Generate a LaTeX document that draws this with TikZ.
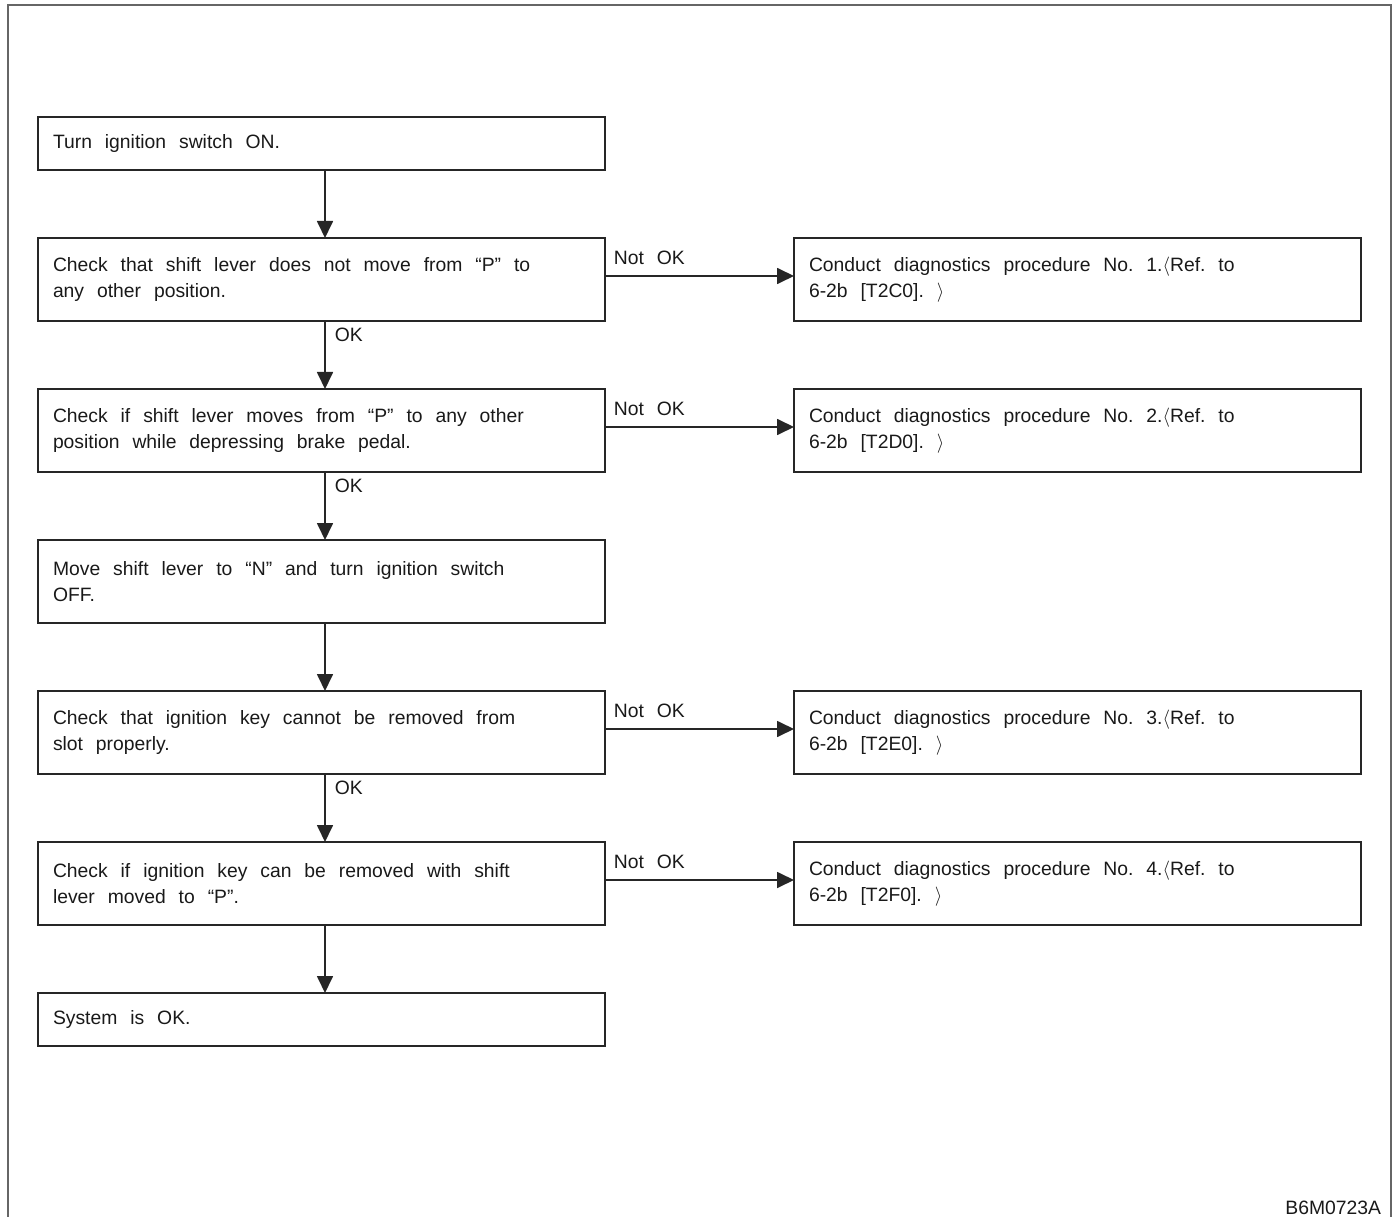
\documentclass[tikz,border=0pt]{standalone}
\usepackage{fontspec}
\setmainfont{Liberation Sans}
\usetikzlibrary{arrows.meta}
\usetikzlibrary{positioning}
\newcommand{\flowfont}{\fontsize{11}{14.8}\selectfont\frenchspacing\spaceskip 7.3pt plus 1pt minus 1pt\relax}

\begin{document}
\begin{tikzpicture}[->,>={Triangle[width=0.32cm,length=0.34cm]},node distance=1.36cm and 3.78cm, line width=1pt, draw=black!85, font=\flowfont]
	\tikzstyle{box}=[draw=black!85, line width=1.1pt, outer sep=0pt, text=black!90, minimum width=11.34cm, minimum height=1.66cm, text width=10.74cm, inner xsep=0.3cm, align=left, execute at begin node=\spaceskip 7.35pt plus 1pt minus 1pt\relax]
	\tikzstyle{short}=[box, minimum height=1.06cm]
	\tikzstyle{notok}=[pos=0, anchor=south west, inner xsep=0.16cm, inner ysep=0.2cm, text=black!90]
	\tikzstyle{okl}=[pos=0, anchor=north west, inner xsep=0.18cm, inner ysep=0.13cm, text=black!90]
	\tikzstyle{vmove}=[transform canvas={xshift=0.07cm}]
	\tikzstyle{hmove}=[transform canvas={yshift=0.07cm}]
	\useasboundingbox (0,0) rectangle (27.96,-24.34);
	\draw[-, black!60, line width=0.9pt] (0.16,-24.6) -- (0.16,-0.1) -- (27.82,-0.1) -- (27.82,-24.6);
		\node[short, anchor=north west] (A) at (0.76,-2.34) {Turn ignition switch ON.};
		\node[box]   (B) [below=of A] {Check that shift lever does not move from “P” to\\any other position.};
		\node[box]   (H) [right=of B] {Conduct diagnostics procedure No. 1.$\langle$Ref. to\\6-2b [T2C0]. $\rangle$};
		\node[box]   (C) [below=of B] {Check if shift lever moves from “P” to any other\\position while depressing brake pedal.};
		\node[box]   (I) [right=of C] {Conduct diagnostics procedure No. 2.$\langle$Ref. to\\6-2b [T2D0]. $\rangle$};
		\node[box]   (D) [below=of C] {Move shift lever to “N” and turn ignition switch\\OFF.};
		\node[box]   (E) [below=of D] {Check that ignition key cannot be removed from\\slot properly.};
		\node[box]   (J) [right=of E] {Conduct diagnostics procedure No. 3.$\langle$Ref. to\\6-2b [T2E0]. $\rangle$};
		\node[box]   (F) [below=of E] {Check if ignition key can be removed with shift\\lever moved to “P”.};
		\node[box]   (K) [right=of F] {Conduct diagnostics procedure No. 4.$\langle$Ref. to\\6-2b [T2F0]. $\rangle$};
		\node[short] (G) [below=of F] {System is OK.};
		\node[anchor=base east, inner sep=0pt, text=black!90] (code) at (27.64,-24.28) {B6M0723A};
		\path
			(A) edge[vmove] (B)
			(B) edge[vmove] node[okl] {OK} (C)
			(C) edge[vmove] node[okl] {OK} (D)
			(D) edge[vmove] (E)
			(E) edge[vmove] node[okl] {OK} (F)
			(F) edge[vmove] (G)
			(B) edge[hmove] node[notok] {Not OK} (H)
			(C) edge[hmove] node[notok] {Not OK} (I)
			(E) edge[hmove] node[notok] {Not OK} (J)
			(F) edge[hmove] node[notok] {Not OK} (K);
\end{tikzpicture}
\end{document}
